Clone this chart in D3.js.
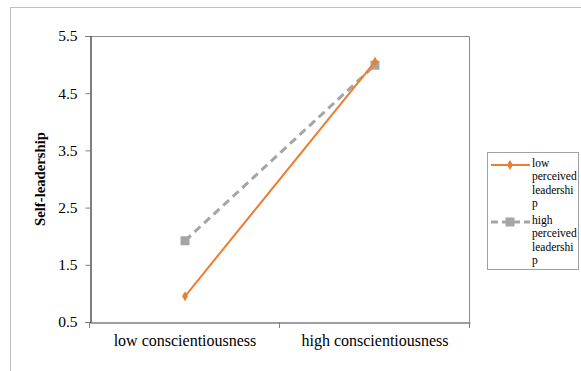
<!DOCTYPE html>
<html><head><meta charset="utf-8">
<script src="https://cdn.jsdelivr.net/npm/d3@7"></script>
<style>body{margin:0;background:#fff}svg{display:block}svg text{font-family:"Liberation Serif","Times New Roman",Tinos,"DejaVu Serif",serif !important}</style>
</head><body>
<svg id="c" width="581" height="371"></svg>
<script>
const categories = ["low conscientiousness", "high conscientiousness"];
const lowPerceived = [0.95, 5.05];
const highPerceived = [1.92, 4.99];
const yTicks = [0.5, 1.5, 2.5, 3.5, 4.5, 5.5];
const seriesNames = [["low", "perceived", "leadershi", "p"], ["high", "perceived", "leadershi", "p"]];
const yTitle = "Self-leadership";

const FONT = "'Liberation Serif', 'Times New Roman', serif";
const svg = d3.select("#c");
// outer frame
svg.append("rect").attr("x", 10.5).attr("y", 7.5).attr("width", 600).attr("height", 400)
  .attr("fill", "none").attr("stroke", "#bfbfbf").attr("stroke-width", 1);

const L = 90, T = 36, R = 470, B = 322;
const x = d3.scaleBand().domain(categories).range([L, R]);
const y = d3.scaleLinear().domain([0.5, 5.5]).range([B, T]);

// plot border (top, right gray)
svg.append("path").attr("d", `M${L},${T + 0.5}H${R - 0.5}V${B}`).attr("fill", "none").attr("stroke", "#8c8c8c").attr("stroke-width", 1);

// y axis
const ya = svg.append("g").attr("transform", `translate(${L + 0.5},0)`)
  .call(d3.axisLeft(y).tickValues(yTicks).tickFormat(d3.format(".1f")).tickSize(5).tickPadding(8));
ya.attr("font-family", FONT);
ya.select(".domain").attr("stroke", "#000");
ya.selectAll(".tick line").attr("stroke", "#808080");
ya.selectAll("text").attr("font-size", 15.5).attr("fill", "#000").style("font-family", FONT);

// x axis
const xa = svg.append("g").attr("transform", `translate(0,${B + 0.5})`)
  .call(d3.axisBottom(x).tickSize(0).tickPadding(12));
xa.attr("font-family", FONT);
xa.select(".domain").attr("stroke", "#404040");
xa.selectAll("text").attr("font-size", 16).attr("fill", "#000").style("font-family", FONT);
// category boundary ticks
const bounds = [L, L + x.step(), R];
svg.append("g").selectAll("line").data(bounds).join("line")
  .attr("x1", d => d - 0.5).attr("x2", d => d - 0.5).attr("y1", B).attr("y2", B + 6)
  .attr("stroke", "#808080");

// y title
svg.append("text").attr("transform", `translate(45,${(T + B) / 2}) rotate(-90)`)
  .attr("text-anchor", "middle").attr("font-size", 14.7).attr("font-weight", "bold").style("font-family", FONT).text(yTitle);

const cx = (d, i) => x(categories[i]) + x.bandwidth() / 2;
const line = d3.line().x(cx).y(d => y(d));

// gray dashed
svg.append("path").datum(highPerceived).attr("d", line).attr("fill", "none")
  .attr("stroke", "#A5A5A5").attr("stroke-width", 3).attr("stroke-dasharray", "8,5");
svg.append("g").selectAll("rect").data(highPerceived).join("rect")
  .attr("x", (d, i) => cx(d, i) - 4.5).attr("y", d => y(d) - 4.5).attr("width", 9).attr("height", 9)
  .attr("fill", "#A5A5A5");

// orange
svg.append("path").datum(lowPerceived).attr("d", line).attr("fill", "none")
  .attr("stroke", "#ED7D31").attr("stroke-width", 2);
svg.append("g").selectAll("path").data(lowPerceived).join("path")
  .attr("d", d3.symbol(d3.symbolDiamond, 30))
  .attr("transform", (d, i) => `translate(${cx(d, i)},${y(d)})`).attr("fill", "#ED7D31");

// legend
svg.append("rect").attr("x", 487.5).attr("y", 152.5).attr("width", 91).attr("height", 117)
  .attr("fill", "#fff").attr("stroke", "#a0a0a0");
const lg = [{c: "#ED7D31", y: 165, dash: null, w: 2, m: "d"}, {c: "#A5A5A5", y: 222, dash: "7,4", w: 3, m: "s"}];
lg.forEach((e, i) => {
  svg.append("line").attr("x1", 491).attr("x2", 530).attr("y1", e.y).attr("y2", e.y)
    .attr("stroke", e.c).attr("stroke-width", e.w).attr("stroke-dasharray", e.dash);
  if (e.m === "d") svg.append("path").attr("d", d3.symbol(d3.symbolDiamond, 30)).attr("transform", `translate(510,${e.y})`).attr("fill", e.c);
  else svg.append("rect").attr("x", 505.5).attr("y", e.y - 4.5).attr("width", 9).attr("height", 9).attr("fill", e.c);
  const t = svg.append("text").attr("x", 532).attr("y", e.y + 2).attr("font-size", 11.5).style("font-family", FONT);
  seriesNames[i].forEach((s, j) => t.append("tspan").attr("x", 532).attr("dy", j === 0 ? 0 : 13.3).text(s));
});
</script>
</body></html>
